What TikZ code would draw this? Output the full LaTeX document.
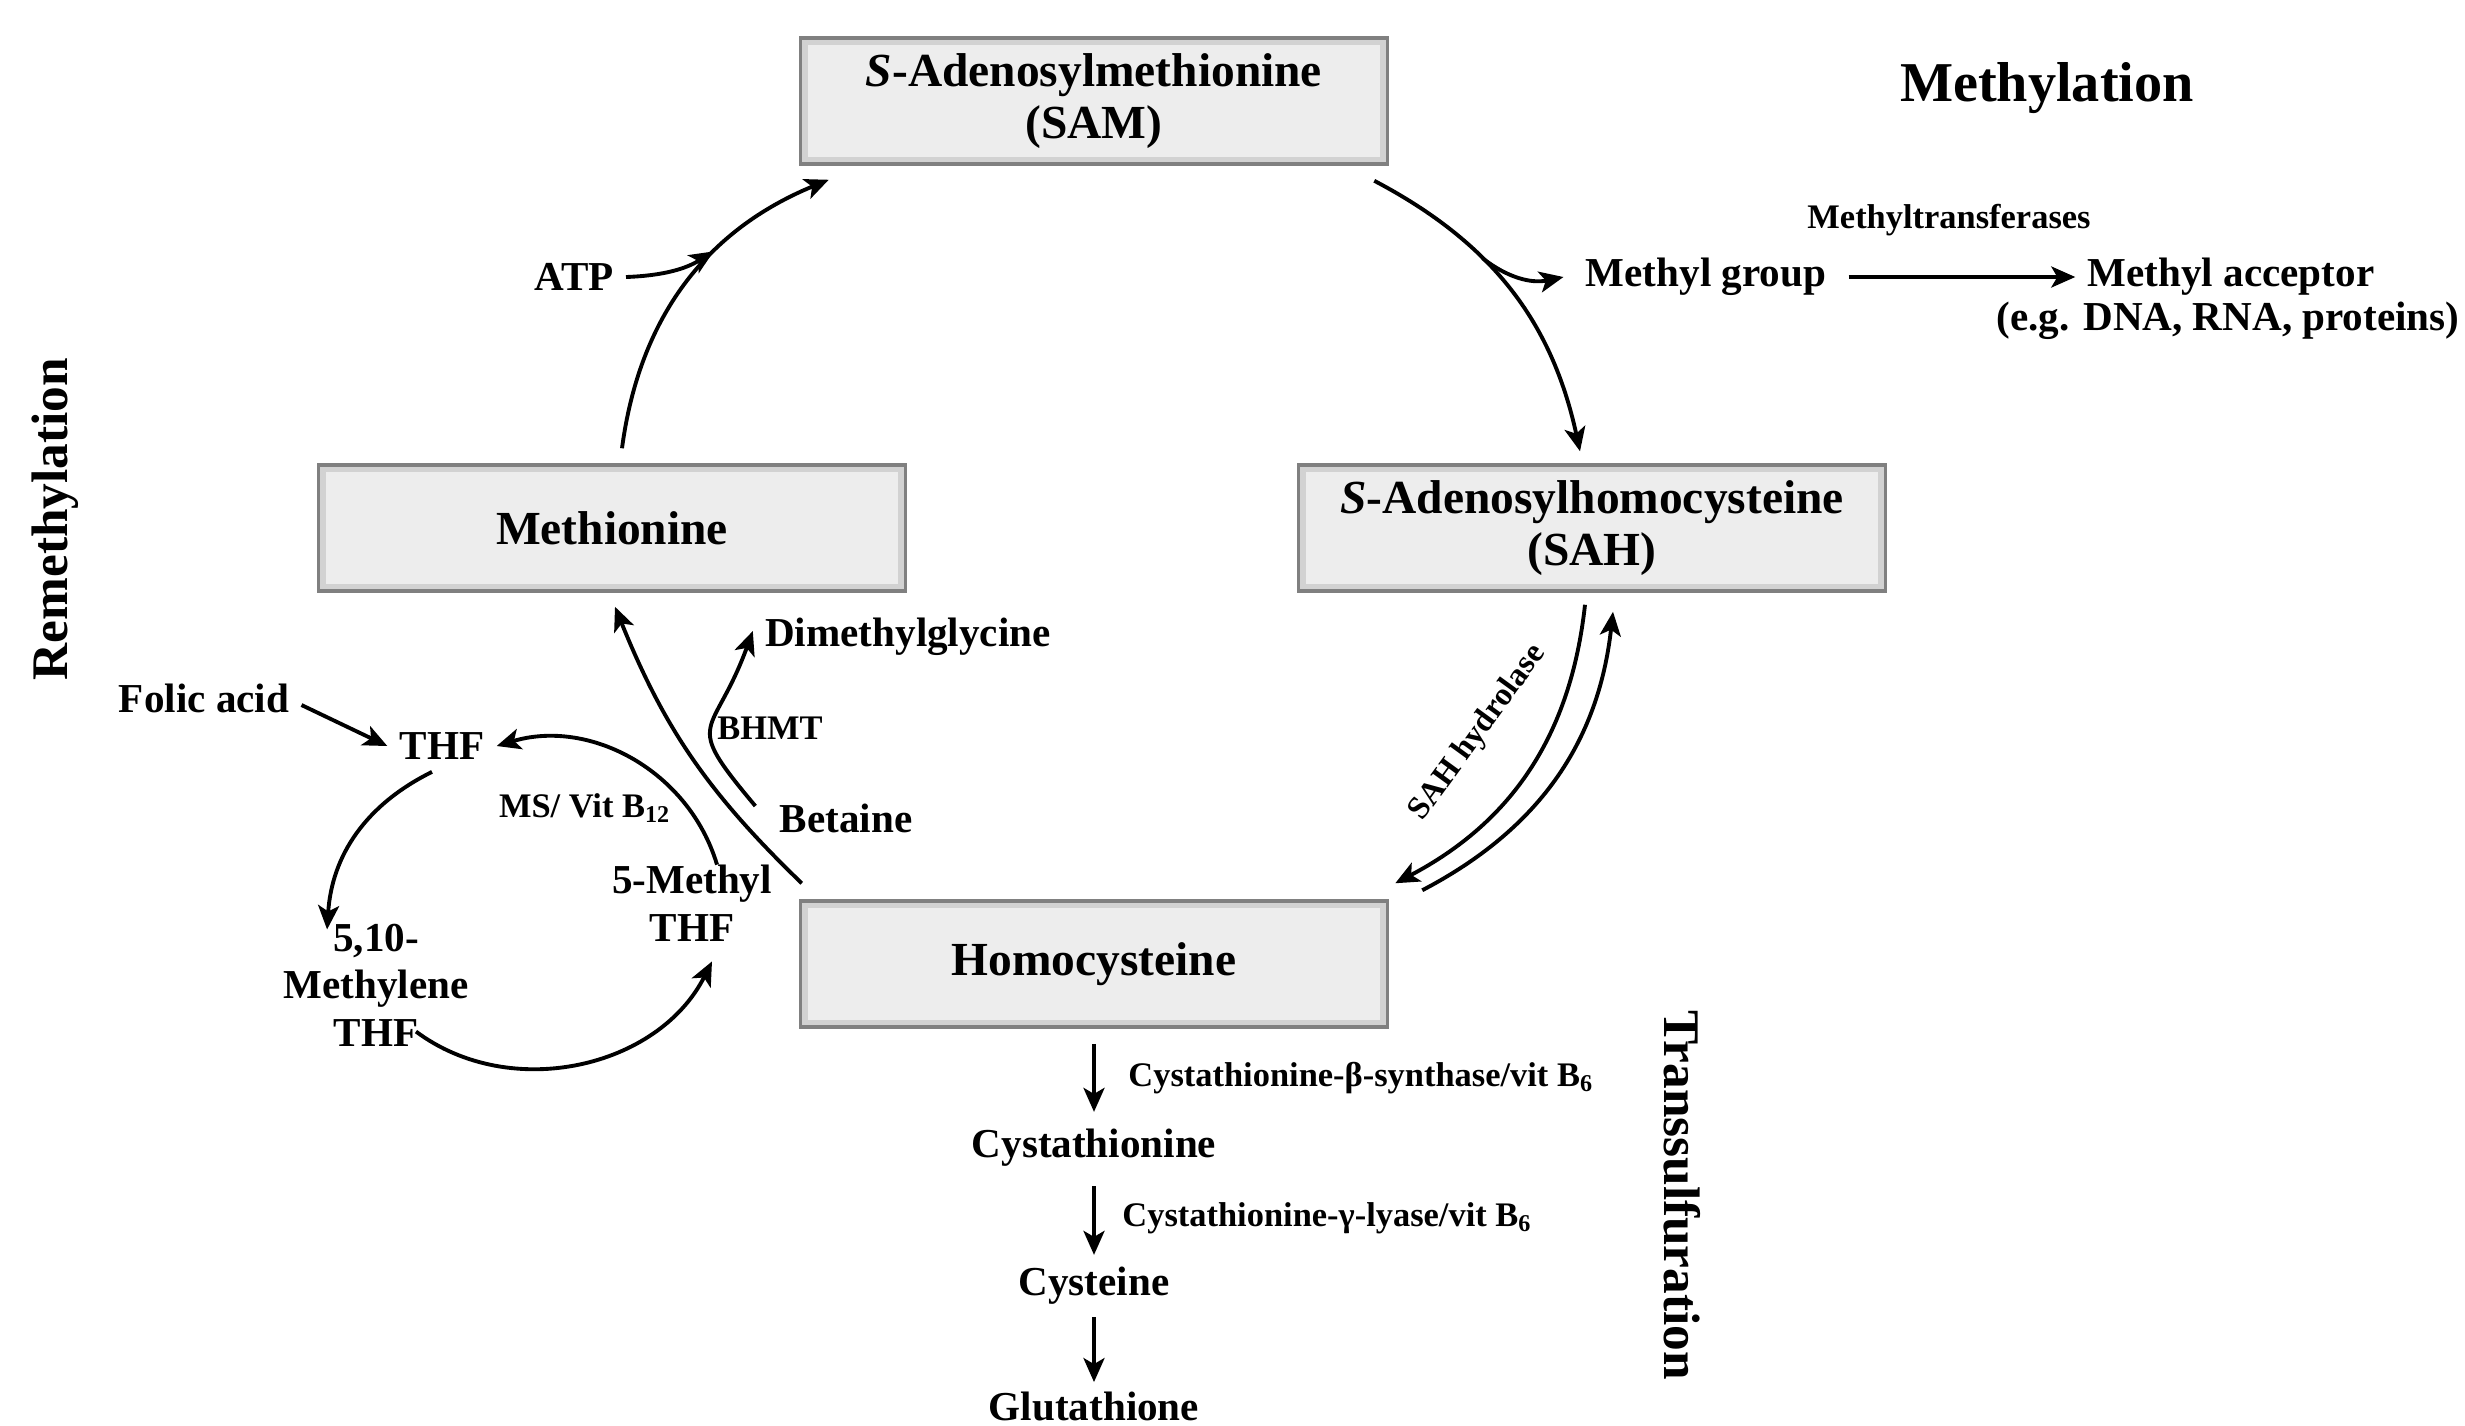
\documentclass[tikz,border=0pt]{standalone}
\usepackage{fontspec}
\setmainfont{Liberation Serif}
\usetikzlibrary{positioning,arrows.meta}

\tikzset{
    pool/.style={draw=gray, line width=1pt, fill=gray!14, align=center,
        minimum width=5.87cm, minimum height=1.26cm,
        font=\fontsize{13.5}{14.8}\selectfont\bfseries,
        path picture={\draw [gray!35, line width=4pt]
            (path picture bounding box.south west) rectangle
            (path picture bounding box.north east);}},
    metab/.style={align=center, font=\fontsize{11.7}{13.5}\selectfont\bfseries},
    enzyme/.style={font=\fontsize{9.8}{11}\selectfont\bfseries},
    route/.style={font=\fontsize{14.6}{16}\selectfont\bfseries},
    flow/.style={line width=1.1pt, -{Stealth[length=2.4mm, width=2.1mm, inset=0.6mm]}},
}

\begin{document}
\begin{tikzpicture}[on grid]
    \useasboundingbox (0,0) rectangle (24.65,-14.25);
    \node [pool] (hcy) at (10.94,-9.64) {Homocysteine};
    \node [pool, right=of hcy, xshift=-1.0cm, yshift=8.63cm] (sam) {\textit{S}-Adenosylmethionine\\(SAM)};
    \node [pool, right=of hcy, xshift=3.98cm, yshift=4.36cm] (sah) {\textit{S}-Adenosylhomocysteine\\(SAH)};
    \node [pool, right=of hcy, xshift=-5.82cm, yshift=4.36cm] (met) {Methionine};

    \node [route, font=\fontsize{16}{18}\selectfont\bfseries, right=of hcy, xshift=8.53cm, yshift=8.76cm] (methyl) {Methylation};
    \node [route, right=of hcy, xshift=-11.39cm, yshift=4.45cm, rotate=90] (remethyl) {Remethylation};
    \node [route, right=of hcy, xshift=4.88cm, yshift=-2.31cm, rotate=-90] (transsulf) {Transsulfuration};

    \node [enzyme, right=of hcy, xshift=7.55cm, yshift=7.44cm] (mtase) {Methyltransferases};
    \node [metab, right=of hcy, xshift=5.12cm, yshift=6.87cm] (megrp) {Methyl group};
    \node [metab, right=of hcy, xshift=10.37cm, yshift=6.87cm] (acc) {Methyl acceptor};
    \node [metab, right=of hcy, xshift=10.34cm, yshift=6.43cm] (accex) {(e.g. DNA, RNA, proteins)};
    \node [metab, right=of hcy, xshift=-6.20cm, yshift=6.87cm] (atp) {ATP};
    \node [enzyme, font=\fontsize{9.2}{11}\selectfont\bfseries, right=of hcy, xshift=2.84cm, yshift=2.31cm, rotate=54] (sahh) {SAH hydrolase};

    \node [metab, right=of hcy, xshift=-2.86cm, yshift=3.27cm] (dmg) {Dimethylglycine};
    \node [enzyme, right=of hcy, xshift=-4.24cm, yshift=2.36cm] (bhmt) {BHMT};
    \node [metab, right=of hcy, xshift=-3.48cm, yshift=1.46cm] (betaine) {Betaine};
    \node [metab, right=of hcy, xshift=-9.9cm, yshift=2.66cm] (folic) {Folic acid};
    \node [metab, right=of hcy, xshift=-7.52cm, yshift=2.18cm] (thf) {THF};
    \node [enzyme, right=of hcy, xshift=-6.09cm, yshift=1.56cm] (msb) {MS/ Vit B\textsubscript{12}};
    \node [metab, right=of hcy, xshift=-5.02cm, yshift=0.61cm] (mthf) {5-Methyl\\THF};
    \node [metab, right=of hcy, xshift=-8.18cm, yshift=-0.21cm] (mlthf) {5,10-\\Methylene\\THF};

    \node [metab, right=of hcy, xshift=-1.0cm, yshift=-1.84cm] (cysta) {Cystathionine};
    \node [metab, right=of hcy, xshift=-1.0cm, yshift=-3.22cm] (cyst) {Cysteine};
    \node [metab, right=of hcy, xshift=-1.0cm, yshift=-4.42cm] (glut) {Glutathione};
    \node [enzyme, right=of hcy, xshift=-0.78cm, yshift=-1.14cm, anchor=west] (cbs) {Cystathionine-β-synthase/vit B\textsubscript{6}};
    \node [enzyme, right=of hcy, xshift=-0.84cm, yshift=-2.54cm, anchor=west] (cgl) {Cystathionine-γ-lyase/vit B\textsubscript{6}};

    \draw [flow] ([xshift=1.0mm, yshift=1.5mm]met.north) to [bend left=30] coordinate [pos=0.64] (atpjoin) ([xshift=3mm, yshift=-1.4mm]sam.south west);
    \draw [flow] ([xshift=-1.5mm, yshift=-1.5mm]sam.south east) to [bend left=25] coordinate [pos=0.37] (mbranch) ([xshift=-1.2mm, yshift=1.2mm]sah.north);
    \draw [flow, shorten >=0.5mm] (atp.east) to [bend right=15] (atpjoin);
    \draw [flow] (mbranch) to [bend right=25] ([xshift=-1mm]megrp.west);
    \draw [flow, shorten <=1mm] (megrp) -- (acc);
    \draw [flow] ([xshift=-0.7mm, yshift=-1.2mm]sah.south) to [bend left=28] ([xshift=0.6mm, yshift=1.6mm]hcy.north east);
    \draw [flow] ([xshift=3.3mm, yshift=0.9mm]hcy.north east) to [bend right=28] ([xshift=2.1mm, yshift=-1.9mm]sah.south);
    \draw [flow] ([xshift=0.3mm, yshift=1.6mm]hcy.north west) to [bend left=12] ([xshift=0.3mm, yshift=-1.4mm]met.south);
    \draw [flow] ([xshift=-1.2mm, yshift=1.2mm]betaine.west) to [out=130, in=250, looseness=1.7] ([yshift=0.6mm]dmg.west);
    \draw [flow] ([yshift=-0.7mm]folic.east) -- (thf.west);
    \draw [flow] ([xshift=2.5mm, yshift=-1.2mm]mthf.north) to [bend right=45] (thf.east);
    \draw [flow] ([xshift=-1mm]thf.south) to [bend right=30] ([xshift=5.6mm, yshift=-1.8mm]mlthf.north west);
    \draw [flow] ([xshift=4mm, yshift=2.7mm]mlthf.south) to [bend right=50] ([xshift=2mm, yshift=-0.8mm]mthf.south);
    %\draw [flow] (hcy) -- (cbs);
    \draw [flow, shorten <=1.5mm, shorten >=0.5mm] (hcy) -- (cysta);
    \draw [flow, shorten <=0.7mm] (cysta) -- (cyst);
    \draw [flow, shorten >=-0.3mm] (cyst) -- (glut);
\end{tikzpicture}
\end{document}
